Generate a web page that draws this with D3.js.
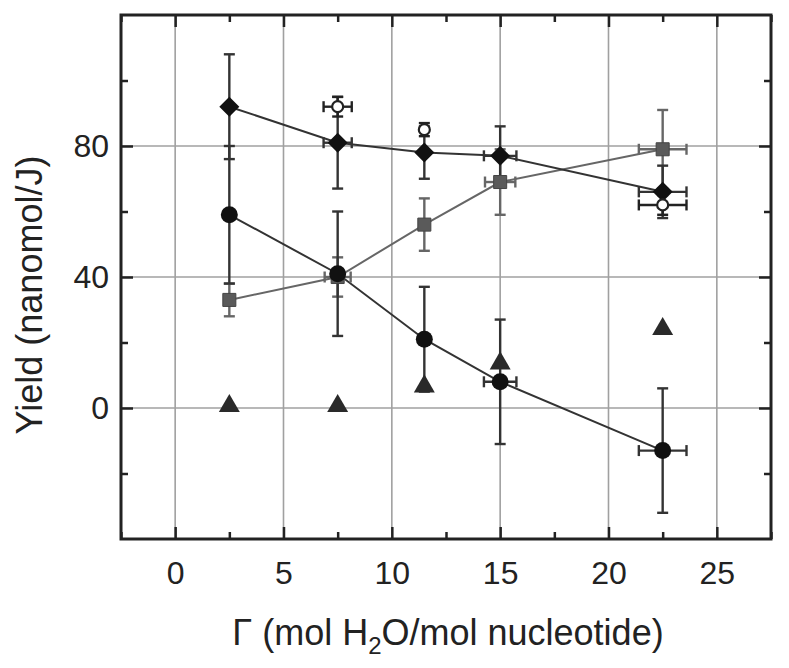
<!DOCTYPE html>
<html>
<head>
<meta charset="utf-8">
<script src="https://cdn.jsdelivr.net/npm/d3@7"></script>
<style>
  body { margin: 0; background: #fff; }
  text { font-family: "Liberation Sans", Arial, sans-serif; fill: #222; }
</style>
</head>
<body>
<svg id="chart" width="789" height="668"></svg>
<script>
// data
const gamma = [2.5, 7.5, 11.5, 15, 22.5];

const diamondY = [92, 81, 78, 77, 66];
const diamondErr = [16, 14, 8, 9, 8];
const diamondXErr = [0, 0.65, 0, 0.75, 1.1];

const circleY = [59, 41, 21, 8, -13];
const circleErr = [21, 19, 16, 19, 19];
const circleXErr = [0, 0, 0, 0.75, 1.1];

const squareY = [33, 40, 56, 69, 79];
const squareErr = [5, 6, 8, 10, 12];
const squareXErr = [0, 0.6, 0, 0.7, 1.1];

const hollowX = [7.5, 11.5, 22.5];
const hollowY = [92, 85, 62];
const hollowErr = [3, 2, 3];
const hollowXErr = [0.65, 0, 1.1];

const triangleY = [0, 0, 6, 13, 23.5];

const xTicks = [0, 5, 10, 15, 20, 25];
const xMinor = [-2.5, 2.5, 7.5, 12.5, 17.5, 22.5, 27.5];
const yTicks = [0, 40, 80];
const yMinor = [-20, 20, 60, 100];

const svg = d3.select("#chart");
const plotL = 121, plotR = 771, plotT = 15, plotB = 539;

const x = d3.scaleLinear().domain([-2.5, 27.5]).range([plotL, plotR]);
const y = d3.scaleLinear().domain([-40, 120]).range([plotB, plotT]);

// grid
const grid = svg.append("g").attr("stroke", "#a0a0a0").attr("stroke-width", 1.6);
grid.selectAll(".gx").data(xTicks).enter().append("line")
  .attr("x1", d => x(d)).attr("x2", d => x(d)).attr("y1", plotT).attr("y2", plotB);
grid.selectAll(".gy").data(yTicks).enter().append("line")
  .attr("y1", d => y(d)).attr("y2", d => y(d)).attr("x1", plotL).attr("x2", plotR);

// axes, ticks pointing inward
const tickFont = 32;
const axB = svg.append("g").attr("transform", `translate(0,${plotB})`)
  .call(d3.axisBottom(x).tickValues(xTicks).tickSize(-12).tickPadding(22));
axB.append("g").call(d3.axisBottom(x).tickValues(xMinor).tickSize(-7).tickFormat(""));
const axT = svg.append("g").attr("transform", `translate(0,${plotT})`)
  .call(d3.axisTop(x).tickValues(xTicks).tickSize(-12).tickFormat(""));
axT.append("g").call(d3.axisTop(x).tickValues(xMinor).tickSize(-7).tickFormat(""));
const axL = svg.append("g").attr("transform", `translate(${plotL},0)`)
  .call(d3.axisLeft(y).tickValues(yTicks).tickSize(-12).tickPadding(12));
axL.append("g").call(d3.axisLeft(y).tickValues(yMinor).tickSize(-7).tickFormat(""));
const axR = svg.append("g").attr("transform", `translate(${plotR},0)`)
  .call(d3.axisRight(y).tickValues(yTicks).tickSize(-12).tickFormat(""));
axR.append("g").call(d3.axisRight(y).tickValues(yMinor).tickSize(-7).tickFormat(""));

svg.selectAll(".domain").remove();
svg.selectAll(".tick line").attr("stroke", "#222").attr("stroke-width", 2.5);
svg.selectAll(".tick text").attr("font-size", tickFont)
  .attr("font-family", "Liberation Sans, Arial, sans-serif").attr("fill", "#222");

svg.append("rect").attr("x", plotL).attr("y", plotT)
  .attr("width", plotR - plotL).attr("height", plotB - plotT)
  .attr("fill", "none").attr("stroke", "#222").attr("stroke-width", 3);

// axis titles
svg.append("text").attr("transform", `translate(42,${(plotT + plotB) / 2 + 18}) rotate(-90)`)
  .attr("text-anchor", "middle").attr("font-size", 36).text("Yield (nanomol/J)");

const xt = svg.append("text").attr("x", (plotL + plotR) / 2 + 2).attr("y", 645)
  .attr("text-anchor", "middle").attr("font-size", 36);
xt.append("tspan").text("\u0393 (mol H");
xt.append("tspan").attr("font-size", 24).attr("dy", 9).text("2");
xt.append("tspan").attr("dy", -9).text("O/mol nucleotide)");

// connecting lines
const line = d3.line().x(d => x(d[0])).y(d => y(d[1]));
svg.append("path").datum(d3.zip(gamma, squareY)).attr("d", line)
  .attr("fill", "none").attr("stroke", "#666").attr("stroke-width", 2);
svg.append("path").datum(d3.zip(gamma, diamondY)).attr("d", line)
  .attr("fill", "none").attr("stroke", "#333").attr("stroke-width", 2);
svg.append("path").datum(d3.zip(gamma, circleY)).attr("d", line)
  .attr("fill", "none").attr("stroke", "#333").attr("stroke-width", 2);

// error bars
function errorBars(xs, ys, yErr, xErr, color) {
  const g = svg.append("g").attr("stroke", color).attr("stroke-width", 2.4);
  const cap = 5.5;
  xs.forEach((xv, i) => {
    const cx = x(xv), cy = y(ys[i]);
    const e = yErr[i];
    if (e > 0) {
      const y1 = y(ys[i] + e), y2 = y(ys[i] - e);
      g.append("line").attr("x1", cx).attr("x2", cx).attr("y1", y1).attr("y2", y2);
      g.append("line").attr("x1", cx - cap).attr("x2", cx + cap).attr("y1", y1).attr("y2", y1);
      g.append("line").attr("x1", cx - cap).attr("x2", cx + cap).attr("y1", y2).attr("y2", y2);
    }
    const h = xErr[i];
    if (h > 0) {
      const x1 = x(xv - h), x2 = x(xv + h);
      g.append("line").attr("x1", x1).attr("x2", x2).attr("y1", cy).attr("y2", cy);
      g.append("line").attr("x1", x1).attr("x2", x1).attr("y1", cy - cap).attr("y2", cy + cap);
      g.append("line").attr("x1", x2).attr("x2", x2).attr("y1", cy - cap).attr("y2", cy + cap);
    }
  });
}

errorBars(gamma, squareY, squareErr, squareXErr, "#666");
errorBars(gamma, circleY, circleErr, circleXErr, "#333");
errorBars(gamma, diamondY, diamondErr, diamondXErr, "#333");
errorBars(hollowX, hollowY, hollowErr, hollowXErr, "#222");

// markers
const sym = (type, size) => d3.symbol().type(type).size(size)();

svg.append("g").selectAll("path").data(d3.zip(gamma, triangleY)).enter().append("path")
  .attr("transform", d => `translate(${x(d[0])},${y(d[1]) - 2})`)
  .attr("d", sym(d3.symbolTriangle, 190)).attr("fill", "#2a2a2a");

svg.append("g").selectAll("path").data(d3.zip(gamma, squareY)).enter().append("path")
  .attr("transform", d => `translate(${x(d[0])},${y(d[1])})`)
  .attr("d", sym(d3.symbolSquare, 170)).attr("fill", "#5a5a5a").attr("stroke", "#444");

svg.append("g").selectAll("circle").data(d3.zip(gamma, circleY)).enter().append("circle")
  .attr("cx", d => x(d[0])).attr("cy", d => y(d[1])).attr("r", 8.5).attr("fill", "#111");

svg.append("g").selectAll("path").data(d3.zip(gamma, diamondY)).enter().append("path")
  .attr("transform", d => `translate(${x(d[0])},${y(d[1])}) rotate(45)`)
  .attr("d", sym(d3.symbolSquare, 200)).attr("fill", "#111");

svg.append("g").selectAll("circle").data(d3.zip(hollowX, hollowY)).enter().append("circle")
  .attr("cx", d => x(d[0])).attr("cy", d => y(d[1])).attr("r", 5.5)
  .attr("fill", "#fff").attr("stroke", "#222").attr("stroke-width", 2.2);
</script>
</body>
</html>
